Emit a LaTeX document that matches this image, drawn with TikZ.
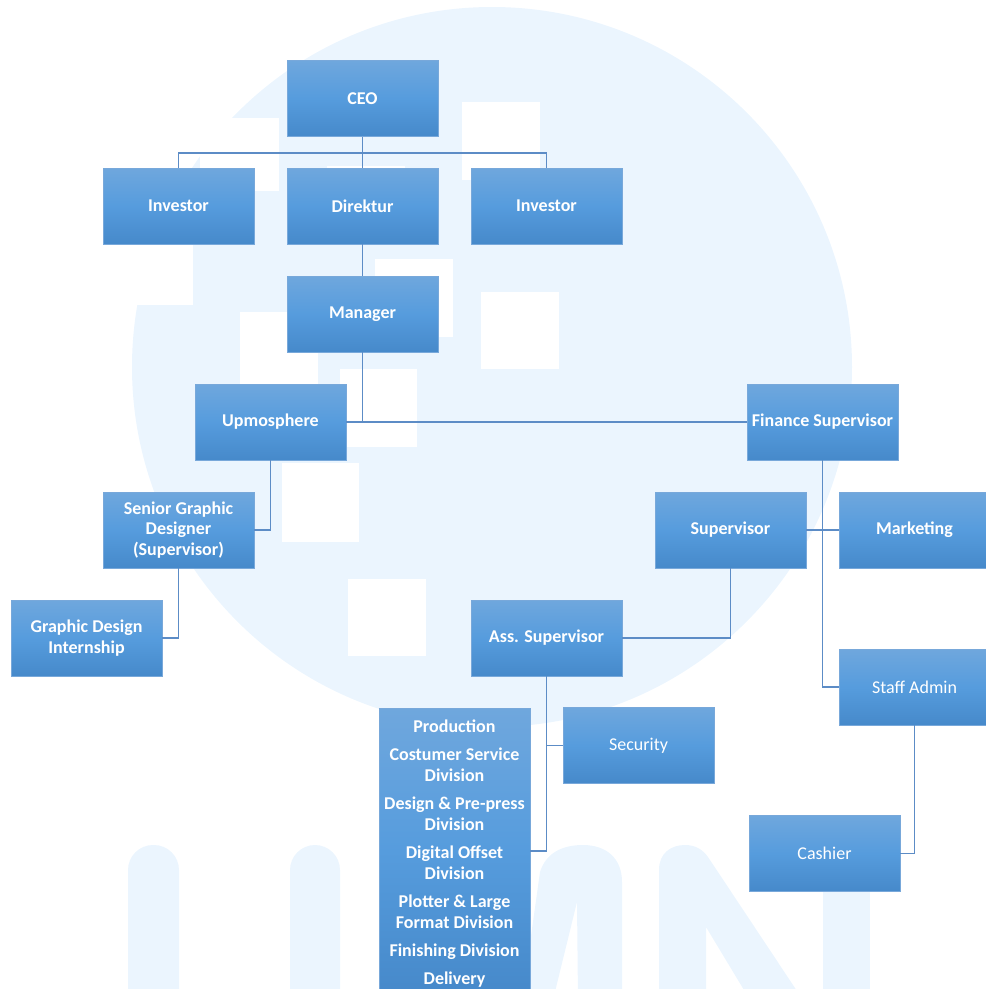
\documentclass[tikz,border=0pt]{standalone}
\usepackage{fontspec}
\setmainfont{Carlito}
\definecolor{wm}{RGB}{235,245,254}
\definecolor{btop}{RGB}{111,167,221}
\definecolor{bmid}{RGB}{86,156,221}
\definecolor{bbot}{RGB}{70,137,202}
\definecolor{bline}{RGB}{120,168,218}
\definecolor{conn}{RGB}{92,140,198}
\tikzset{
  box/.style={rectangle, minimum width=151pt, minimum height=76pt, inner sep=1pt,
    draw=bline, line width=0.7pt, top color=btop, bottom color=bbot, middle color=bmid,
    text=white, align=center, font=\fontsize{18}{20.5}\selectfont\bfseries},
  boxr/.style={box, font=\fontsize{18}{20.5}\selectfont},
  divtxt/.style={text=white, align=center, inner sep=0pt, font=\fontsize{18}{20.7}\selectfont\bfseries},
  link/.style={draw=conn, line width=1.5pt},
}
\begin{document}
\begin{tikzpicture}[x=1pt,y=-1pt]
\useasboundingbox (0,0) rectangle (986,989);
\clip (0,0) rectangle (986,989);
% watermark
\fill[wm] (492,367) circle (360);
\fill[white] (200,118) rectangle (279,191);
\fill[white] (462,102) rectangle (540,180);
\fill[white] (327,166) rectangle (405,244);
\fill[white] (110,228) rectangle (193,305);
\fill[white] (375,259) rectangle (453,337);
\fill[white] (481,292) rectangle (559,369);
\fill[white] (240,312) rectangle (318,390);
\fill[white] (340,369) rectangle (417,447);
\fill[white] (282,463) rectangle (359,542);
\fill[white] (348,579) rectangle (426,656);
% UMN letters (watermark)
\fill[wm, rounded corners=25pt] (128,1030) -- (128,845) -- (179,845) -- (179,1030);
\fill[wm, rounded corners=25pt] (290,1030) -- (290,845) -- (340,845) -- (340,1030);
\fill[wm] (522,1000) -- (540,872) .. controls (546,853) and (562,845) .. (583,845)
  .. controls (606,845) and (622,858) .. (622,882) -- (622,1000) -- (578,1000) -- (577,902) -- (553,1000) -- cycle;
\fill[wm] (659,1000) -- (659,870) .. controls (659,853) and (671,845) .. (685,845)
  .. controls (696,845) and (703,850) .. (708,857) -- (803,1000) -- (750,1000) -- (706,927) -- (706,1000) -- cycle;
\fill[wm] (823,860) rectangle (870,1000);
% boxes
\node[box] (ceo) at (362.5,98.5) {CEO};
\node[box] (inv1) at (178.5,206) {Investor};
\node[box] (dir) at (362.5,206) {Direktur};
\node[box] (inv2) at (546.5,206) {Investor};
\node[box] (man) at (362.5,314) {Manager};
\node[box] (upm) at (270.5,422) {Upmosphere};
\node[box] (fin) at (822.5,422) {Finance Supervisor};
\node[box] (sgd) at (178.5,530) {Senior Graphic\\Designer\\(Supervisor)};
\node[box] (sup) at (730.5,530) {Supervisor};
\node[box] (mkt) at (914.5,530) {Marketing};
\node[box] (gdi) at (86.5,638) {Graphic Design\\Internship};
\node[box] (ass) at (546.5,638) {Ass. Supervisor};
\node[boxr] (staff) at (914.5,687) {Staff Admin};
\node[boxr] (sec) at (638.5,745.5) {Security};
\node[box, minimum height=286pt] (div) at (454.5,851) {};
\node[divtxt] (divtext) at (454.5,853.5) {Production\\[7.6pt]Costumer Service\\Division\\[7.6pt]Design \& Pre-press\\Division\\[7.6pt]Digital Offset\\Division\\[7.6pt]Plotter \& Large\\Format Division\\[7.6pt]Finishing Division\\[7.6pt]Delivery};
\node[boxr] (cash) at (824.5,853.5) {Cashier};
% connectors
\draw[link] (ceo.south) -- ++(0,16) coordinate (bar);
\draw[link] (inv1.north) |- (bar) -| (inv2.north);
\draw[link] (bar) -- (dir.north);
\draw[link] (dir.south) -- (man.north);
\draw[link] (man.south) -- (man.south |- upm.east);
\draw[link] (upm.east) -- (fin.west);
\draw[link] (upm.south) |- (sgd.east);
\draw[link] (sgd.south) |- (gdi.east);
\draw[link] (fin.south) |- (staff.west);
\draw[link] (sup.east) -- (mkt.west);
\draw[link] (sup.south) |- (ass.east);
\draw[link] (ass.south) |- (div.east);
\draw[link] (ass.south |- sec.west) -- (sec.west);
\draw[link] (staff.south) |- (cash.east);
\end{tikzpicture}
\end{document}
